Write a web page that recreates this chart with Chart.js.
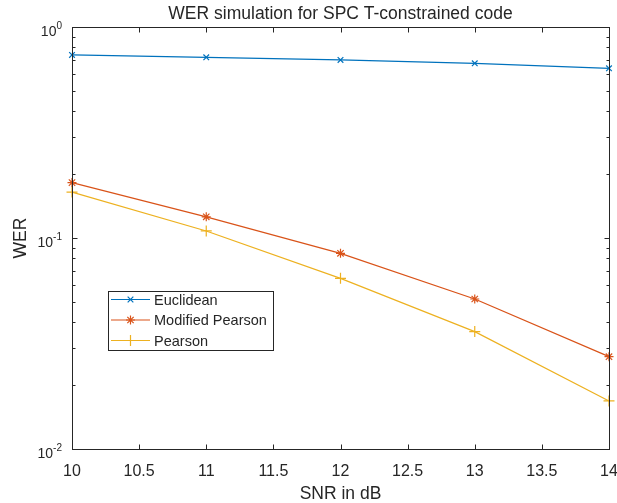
<!DOCTYPE html>
<html>
<head>
<meta charset="utf-8">
<script src="https://cdn.jsdelivr.net/npm/chart.js@4.4.1/dist/chart.umd.min.js"></script>
<style>
  html, body { margin: 0; padding: 0; background: #ffffff; }
  canvas { display: block; }
</style>
</head>
<body>
<canvas id="wer" width="617" height="503"></canvas>
<script>
// SNR points (dB)
const snr = [10, 11, 12, 13, 14];
// Word error rate per decoder
const werEuclidean = [0.737, 0.718, 0.698, 0.673, 0.637];
const werModifiedPearson = [0.183, 0.126, 0.0846, 0.0514, 0.0274];
const werPearson = [0.165, 0.108, 0.0644, 0.036, 0.0169];
// Axis ticks
const xTickValues = [10, 10.5, 11, 11.5, 12, 12.5, 13, 13.5, 14];
const yDecadeValues = [0.01, 0.1, 1];
const yDecadeExponents = ['-2', '-1', '0'];

const seriesNames = ['Euclidean', 'Modified Pearson', 'Pearson'];
const seriesColors = ['#0072BD', '#D95319', '#EDB120'];
const seriesMarkers = ['crossRot', 'star', 'cross'];
const seriesMarkerSizes = [4, 4.5, 5.5];
const seriesValues = [werEuclidean, werModifiedPearson, werPearson];

const INK = '#262626';
const FONT = '"Liberation Sans", Arial, sans-serif';

const datasets = seriesNames.map((name, i) => ({
  label: name,
  data: snr.map((x, k) => ({ x: x, y: seriesValues[i][k] })),
  showLine: true,
  borderColor: seriesColors[i],
  backgroundColor: seriesColors[i],
  borderWidth: 1.2,
  pointStyle: seriesMarkers[i],
  pointRadius: seriesMarkerSizes[i],
  pointBorderWidth: 1.2,
  pointBorderColor: seriesColors[i],
  tension: 0,
  clip: false
}));

// Box, inward ticks, labels, title and legend drawn on top of the plot
const axesDecor = {
  id: 'axesDecor',
  afterDraw(chart) {
    const ctx = chart.ctx;
    const xs = chart.scales.x, ys = chart.scales.y;
    const L = Math.round(chart.chartArea.left) + 0.5;
    const R = Math.round(chart.chartArea.right) + 0.5;
    const T = Math.round(chart.chartArea.top) + 0.5;
    const B = Math.round(chart.chartArea.bottom) + 0.5;
    ctx.save();
    ctx.strokeStyle = INK;
    ctx.lineWidth = 1;
    ctx.strokeRect(L, T, R - L, B - T);

    // x ticks (bottom and top, pointing inward)
    ctx.beginPath();
    xTickValues.forEach(v => {
      const px = Math.round(xs.getPixelForValue(v)) + 0.5;
      ctx.moveTo(px, B); ctx.lineTo(px, B - 5);
      ctx.moveTo(px, T); ctx.lineTo(px, T + 5);
    });
    // y major and minor ticks (left and right)
    yDecadeValues.forEach(d => {
      const py = Math.round(ys.getPixelForValue(d)) + 0.5;
      ctx.moveTo(L, py); ctx.lineTo(L + 5, py);
      ctx.moveTo(R, py); ctx.lineTo(R - 5, py);
      if (d < 1) {
        for (let m = 2; m <= 9; m++) {
          const my = Math.round(ys.getPixelForValue(d * m)) + 0.5;
          ctx.moveTo(L, my); ctx.lineTo(L + 3, my);
          ctx.moveTo(R, my); ctx.lineTo(R - 3, my);
        }
      }
    });
    ctx.stroke();

    ctx.fillStyle = INK;
    // x tick labels
    ctx.font = '16px ' + FONT;
    ctx.textAlign = 'center';
    ctx.textBaseline = 'alphabetic';
    xTickValues.forEach(v => {
      ctx.fillText(String(v), xs.getPixelForValue(v), 476);
    });

    // y tick labels as 10 with a raised exponent
    yDecadeValues.forEach((d, i) => {
      const py = ys.getPixelForValue(d);
      ctx.font = '10px ' + FONT;
      const ew = ctx.measureText(yDecadeExponents[i]).width;
      const right = 62;
      ctx.textAlign = 'left';
      ctx.fillText(yDecadeExponents[i], right - ew, py + 2);
      ctx.font = '14px ' + FONT;
      ctx.textAlign = 'right';
      ctx.fillText('10', right - ew, py + 9);
    });

    // axis titles
    ctx.font = '17.5px ' + FONT;
    ctx.textAlign = 'center';
    ctx.fillText('SNR in dB', (xs.left + xs.right) / 2, 499);
    ctx.save();
    ctx.translate(25.5, (ys.top + ys.bottom) / 2);
    ctx.rotate(-Math.PI / 2);
    ctx.fillText('WER', 0, 0);
    ctx.restore();

    // chart title
    ctx.font = '17.5px ' + FONT;
    ctx.fillText('WER simulation for SPC T-constrained code', (xs.left + xs.right) / 2, 18.5);

    // legend
    const lx = 108.5, ly = 291.5, lw = 165, lh = 59;
    ctx.fillStyle = '#ffffff';
    ctx.fillRect(lx, ly, lw, lh);
    ctx.strokeStyle = INK;
    ctx.strokeRect(lx, ly, lw, lh);
    const rows = [299.5, 320, 340.5];
    chart.data.datasets.forEach((ds, i) => {
      const ry = rows[i];
      ctx.strokeStyle = ds.borderColor;
      ctx.lineWidth = 1.2;
      ctx.beginPath();
      ctx.moveTo(111, ry); ctx.lineTo(150, ry);
      ctx.stroke();
      Chart.helpers.drawPoint(ctx, {
        pointStyle: ds.pointStyle, radius: ds.pointRadius, rotation: 0, borderWidth: 1.2
      }, 130.5, ry);
      ctx.fillStyle = INK;
      ctx.font = '14.5px ' + FONT;
      ctx.textAlign = 'left';
      ctx.fillText(ds.label, 154, ry + 5);
    });
    ctx.restore();
  }
};

new Chart(document.getElementById('wer'), {
  type: 'scatter',
  data: { datasets: datasets },
  plugins: [axesDecor],
  options: {
    responsive: false,
    animation: false,
    devicePixelRatio: 1,
    layout: { padding: { left: 0, right: 8, top: 27, bottom: 0 } },
    plugins: { legend: { display: false }, title: { display: false }, tooltip: { enabled: false } },
    scales: {
      x: {
        type: 'linear', min: 10, max: 14,
        ticks: { display: false, stepSize: 0.5 },
        grid: { display: false }, border: { display: false },
        afterFit(scale) { scale.height = 54; }
      },
      y: {
        type: 'logarithmic', min: 0.01, max: 1,
        ticks: { display: false },
        grid: { display: false }, border: { display: false },
        afterFit(scale) { scale.width = 72; }
      }
    }
  }
});
</script>
</body>
</html>
